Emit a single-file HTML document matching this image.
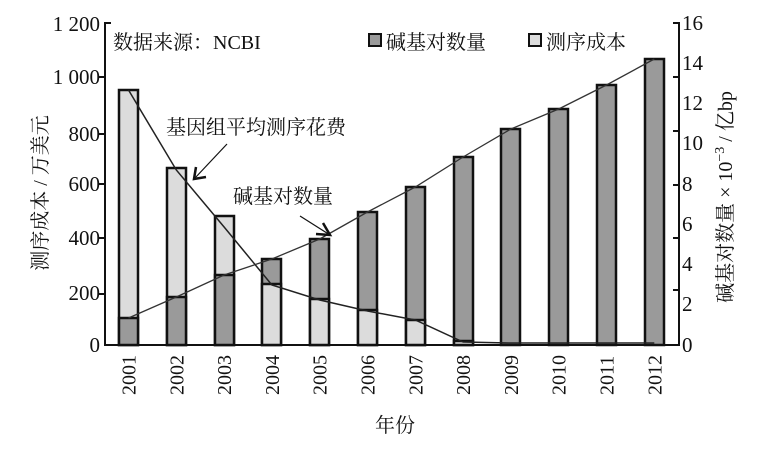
<!DOCTYPE html>
<html><head><meta charset="utf-8"><style>
body{margin:0;background:#fff}
text{font-family:"Liberation Serif","Noto Serif CJK SC",serif;fill:#111}
</style></head><body>
<svg width="760" height="450" viewBox="0 0 760 450" xmlns="http://www.w3.org/2000/svg">
<g font-size="21">
<text x="100" y="352" text-anchor="end">0</text>
<text x="100" y="300" text-anchor="end">200</text>
<text x="100" y="245" text-anchor="end">400</text>
<text x="100" y="191" text-anchor="end">600</text>
<text x="100" y="141" text-anchor="end">800</text>
<text x="100" y="84" text-anchor="end">1 000</text>
<text x="100" y="31" text-anchor="end">1 200</text>
<text x="682" y="352">0</text>
<text x="682" y="311">2</text>
<text x="682" y="271">4</text>
<text x="682" y="231">6</text>
<text x="682" y="191">8</text>
<text x="682" y="150">10</text>
<text x="682" y="110">12</text>
<text x="682" y="70">14</text>
<text x="682" y="30">16</text>
</g>
<g stroke="#111" stroke-width="2.5">
<rect x="119" y="90" width="19" height="255" fill="#dcdcdc"/><rect x="119" y="318" width="19" height="27" fill="#9a9a9a"/>
<rect x="167" y="168" width="19" height="177" fill="#dcdcdc"/><rect x="167" y="297" width="19" height="48" fill="#9a9a9a"/>
<rect x="215" y="216" width="19" height="129" fill="#dcdcdc"/><rect x="215" y="275" width="19" height="70" fill="#9a9a9a"/>
<rect x="262" y="259" width="19" height="86" fill="#9a9a9a"/><rect x="262" y="284" width="19" height="61" fill="#dcdcdc"/>
<rect x="310" y="239" width="19" height="106" fill="#9a9a9a"/><rect x="310" y="299" width="19" height="46" fill="#dcdcdc"/>
<rect x="358" y="212" width="19" height="133" fill="#9a9a9a"/><rect x="358" y="310" width="19" height="35" fill="#dcdcdc"/>
<rect x="406" y="187" width="19" height="158" fill="#9a9a9a"/><rect x="406" y="320" width="19" height="25" fill="#dcdcdc"/>
<rect x="454" y="157" width="19" height="188" fill="#9a9a9a"/><rect x="454" y="341" width="19" height="4" fill="#dcdcdc"/>
<rect x="501" y="129" width="19" height="216" fill="#9a9a9a"/>
<rect x="549" y="109" width="19" height="236" fill="#9a9a9a"/>
<rect x="597" y="85" width="19" height="260" fill="#9a9a9a"/>
<rect x="645" y="59" width="19" height="286" fill="#9a9a9a"/>
</g>
<polyline fill="none" stroke="#222" stroke-width="1.5" points="128.5,90 176.3,170 224.1,227 271.9,285 319.7,300 367.5,311 415.3,320 463.1,342 510.9,343 558.7,343 606.5,343 654.3,343"/>
<polyline fill="none" stroke="#333" stroke-width="1.3" points="128.5,318 176.3,297 224.1,275 271.9,259 319.7,239 367.5,212 415.3,187 463.1,157 510.9,129 558.7,109 606.5,85 654.3,59"/>
<g stroke="#111" stroke-width="2" fill="none">
<line x1="105" y1="22" x2="105" y2="346"/>
<line x1="104" y1="345" x2="680" y2="345"/>
<line x1="679" y1="22" x2="679" y2="346"/>
<line x1="105" y1="23" x2="111" y2="23"/>
<line x1="99" y1="77" x2="105" y2="77"/><line x1="99" y1="134" x2="105" y2="134"/><line x1="99" y1="184" x2="105" y2="184"/><line x1="99" y1="238" x2="105" y2="238"/><line x1="99" y1="294" x2="105" y2="294"/>
<line x1="673" y1="23" x2="679" y2="23"/><line x1="673" y1="77" x2="679" y2="77"/><line x1="673" y1="131" x2="679" y2="131"/><line x1="673" y1="185" x2="679" y2="185"/><line x1="673" y1="238" x2="679" y2="238"/><line x1="673" y1="290" x2="679" y2="290"/>
</g>
<g stroke="#111" stroke-width="1.2" fill="none">
<line x1="227" y1="144" x2="195" y2="178"/>
<polyline points="196,167 194,179 206,177" stroke-width="2.5"/>
<line x1="300" y1="216" x2="330" y2="235"/>
<polyline points="316,234 330,235 323,223" stroke-width="2.5"/>
</g>
<g font-size="20">
<text x="113" y="49">数据来源：NCBI</text>
<rect x="369" y="34" width="12" height="12" fill="#9a9a9a" stroke="#111" stroke-width="2"/>
<text x="386" y="49">碱基对数量</text>
<rect x="529" y="34" width="12" height="12" fill="#dcdcdc" stroke="#111" stroke-width="2"/>
<text x="546" y="49">测序成本</text>
<text x="166" y="134">基因组平均测序花费</text>
<text x="233" y="203">碱基对数量</text>
<text x="395" y="432" text-anchor="middle">年份</text>
<text transform="translate(47,193) rotate(-90)" text-anchor="middle">测序成本 / 万美元</text>
<text transform="translate(732,197) rotate(-90)" text-anchor="middle">碱基对数量 × 10<tspan font-size="14" dy="-8">−3</tspan><tspan dy="8"> / 亿bp</tspan></text>
</g>
<g font-size="20">
<text transform="translate(135.5,395) rotate(-90)">2001</text>
<text transform="translate(183.3,395) rotate(-90)">2002</text>
<text transform="translate(231.1,395) rotate(-90)">2003</text>
<text transform="translate(278.9,395) rotate(-90)">2004</text>
<text transform="translate(326.7,395) rotate(-90)">2005</text>
<text transform="translate(374.5,395) rotate(-90)">2006</text>
<text transform="translate(422.3,395) rotate(-90)">2007</text>
<text transform="translate(470.1,395) rotate(-90)">2008</text>
<text transform="translate(517.9,395) rotate(-90)">2009</text>
<text transform="translate(565.7,395) rotate(-90)">2010</text>
<text transform="translate(613.5,395) rotate(-90)">2011</text>
<text transform="translate(661.3,395) rotate(-90)">2012</text>
</g>
</svg>
</body></html>
